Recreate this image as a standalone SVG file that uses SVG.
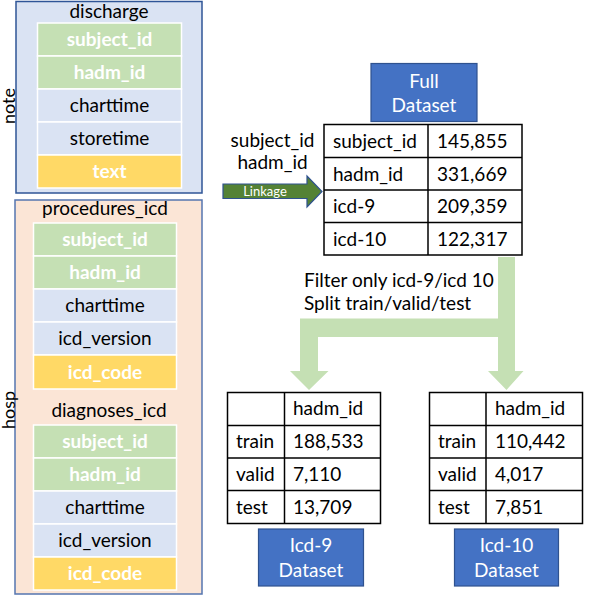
<svg xmlns="http://www.w3.org/2000/svg" width="598" height="596" viewBox="0 0 598 596">
<style>
text{font-family:Lato,"Liberation Sans",sans-serif;font-size:19px;fill:#000}
.w{fill:#fff;font-weight:bold}
.c{text-anchor:middle}
.wt{fill:#fff}
.rot{font-size:18px}
.g{fill:#C5E0B4;stroke:#fff;stroke-width:1.5}
.b{fill:#DAE3F3;stroke:#fff;stroke-width:1.5}
.y{fill:#FFD966;stroke:#fff;stroke-width:1.5}
.tb{fill:#fff;stroke:#000;stroke-width:1.5}
.ln{stroke:#000;stroke-width:1.5}
.ds{fill:#4472C4;stroke:#2F528F;stroke-width:1.2}
</style>
<rect width="598" height="596" fill="#fff"/>

<g id="note">
<rect x="16" y="1.5" width="186" height="191.5" fill="#DAE3F3" stroke="#2F5597" stroke-width="1.5"/>
<text class="c" x="109" y="18">discharge</text>
<rect class="g" x="37.5" y="23" width="144" height="33"/>
<rect class="g" x="37.5" y="56" width="144" height="33"/>
<rect class="b" x="37.5" y="89" width="144" height="33"/>
<rect class="b" x="37.5" y="122" width="144" height="33"/>
<rect class="y" x="37.5" y="155" width="144" height="33"/>
<text class="c w" x="109.5" y="46">subject_id</text>
<text class="c w" x="109.5" y="79">hadm_id</text>
<text class="c" x="109.5" y="112">charttime</text>
<text class="c" x="109.5" y="145">storetime</text>
<text class="c w" x="109.5" y="178">text</text>
<text class="c rot" transform="translate(15,106) rotate(-90)" x="0" y="0">note</text>
</g>

<g id="hosp">
<rect x="15" y="200" width="187" height="394" fill="#FBE5D6" stroke="#5575B0" stroke-width="1.5"/>
<text class="c rot" transform="translate(15,410) rotate(-90)" x="0" y="0">hosp</text>
</g>

<g id="procedures_icd">
<text class="c" x="105" y="215">procedures_icd</text>
<rect class="g" x="33.5" y="223" width="143" height="33"/>
<rect class="g" x="33.5" y="256" width="143" height="33"/>
<rect class="b" x="33.5" y="289" width="143" height="33"/>
<rect class="b" x="33.5" y="322" width="143" height="33"/>
<rect class="y" x="33.5" y="355" width="143" height="34"/>
<text class="c w" x="105" y="246">subject_id</text>
<text class="c w" x="105" y="279">hadm_id</text>
<text class="c" x="105" y="312">charttime</text>
<text class="c" x="105" y="345">icd_version</text>
<text class="c w" x="105" y="379">icd_code</text>
</g>

<g id="diagnoses_icd">
<text class="c" x="109" y="417">diagnoses_icd</text>
<rect class="g" x="33.5" y="425" width="143" height="33"/>
<rect class="g" x="33.5" y="458" width="143" height="33"/>
<rect class="b" x="33.5" y="491" width="143" height="33"/>
<rect class="b" x="33.5" y="524" width="143" height="33"/>
<rect class="y" x="33.5" y="557" width="143" height="33"/>
<text class="c w" x="105" y="448">subject_id</text>
<text class="c w" x="105" y="481">hadm_id</text>
<text class="c" x="105" y="514">charttime</text>
<text class="c" x="105" y="547">icd_version</text>
<text class="c w" x="105" y="580">icd_code</text>
</g>

<g id="connectors">
<path d="M223,184 H307 V176 L322,191.5 L307,207 V198.5 H223 Z" fill="#548235" stroke="#2F528F" stroke-width="1.2"/>
<text class="c wt" x="265" y="196" style="font-size:13px">Linkage</text>
<text class="c" x="272.5" y="147">subject_id</text>
<text class="c" x="272.5" y="169">hadm_id</text>
<path d="M498,257 H515 V371 H523.5 L506.5,390 L488,371 H498 V337 H318 V371 H328.5 L309,390 L290,371 H300 V318.5 H498 Z" fill="#C5E0B4"/>
<text x="304" y="287">Filter only icd-9/icd 10</text>
<text x="304" y="310">Split train/valid/test</text>
</g>

<g id="full_dataset">
<rect class="ds" x="371" y="63.5" width="106" height="58"/>
<text class="c wt" x="424" y="88">Full</text>
<text class="c wt" x="424" y="112">Dataset</text>
<rect class="tb" x="324" y="124.5" width="198" height="130.5"/>
<line class="ln" x1="428" y1="124.5" x2="428" y2="255"/>
<line class="ln" x1="324" y1="157.5" x2="522" y2="157.5"/>
<line class="ln" x1="324" y1="190" x2="522" y2="190"/>
<line class="ln" x1="324" y1="222.5" x2="522" y2="222.5"/>
<text x="333" y="148">subject_id</text>
<text x="437" y="148">145,855</text>
<text x="333" y="181">hadm_id</text>
<text x="437" y="181">331,669</text>
<text x="333" y="213">icd-9</text>
<text x="437" y="213">209,359</text>
<text x="333" y="246">icd-10</text>
<text x="437" y="246">122,317</text>
</g>

<g id="icd9_dataset">
<rect class="tb" x="227.5" y="392.5" width="153" height="131"/>
<line class="ln" x1="284.5" y1="392.5" x2="284.5" y2="523.5"/>
<line class="ln" x1="227.5" y1="425.5" x2="380.5" y2="425.5"/>
<line class="ln" x1="227.5" y1="458" x2="380.5" y2="458"/>
<line class="ln" x1="227.5" y1="490.5" x2="380.5" y2="490.5"/>
<text x="293" y="415">hadm_id</text>
<text x="236" y="448">train</text>
<text x="293" y="448">188,533</text>
<text x="236" y="481">valid</text>
<text x="293" y="481">7,110</text>
<text x="236" y="514">test</text>
<text x="293" y="514">13,709</text>
<rect class="ds" x="258.5" y="529" width="105" height="57"/>
<text class="c wt" x="311" y="552">Icd-9</text>
<text class="c wt" x="311" y="577">Dataset</text>
</g>

<g id="icd10_dataset">
<rect class="tb" x="429.5" y="392.5" width="153" height="131"/>
<line class="ln" x1="486" y1="392.5" x2="486" y2="523.5"/>
<line class="ln" x1="429.5" y1="425.5" x2="582.5" y2="425.5"/>
<line class="ln" x1="429.5" y1="458" x2="582.5" y2="458"/>
<line class="ln" x1="429.5" y1="490.5" x2="582.5" y2="490.5"/>
<text x="495" y="415">hadm_id</text>
<text x="438" y="448">train</text>
<text x="495" y="448">110,442</text>
<text x="438" y="481">valid</text>
<text x="495" y="481">4,017</text>
<text x="438" y="514">test</text>
<text x="495" y="514">7,851</text>
<rect class="ds" x="454.5" y="529" width="104" height="57"/>
<text class="c wt" x="506.5" y="552">Icd-10</text>
<text class="c wt" x="506.5" y="577">Dataset</text>
</g>
</svg>
